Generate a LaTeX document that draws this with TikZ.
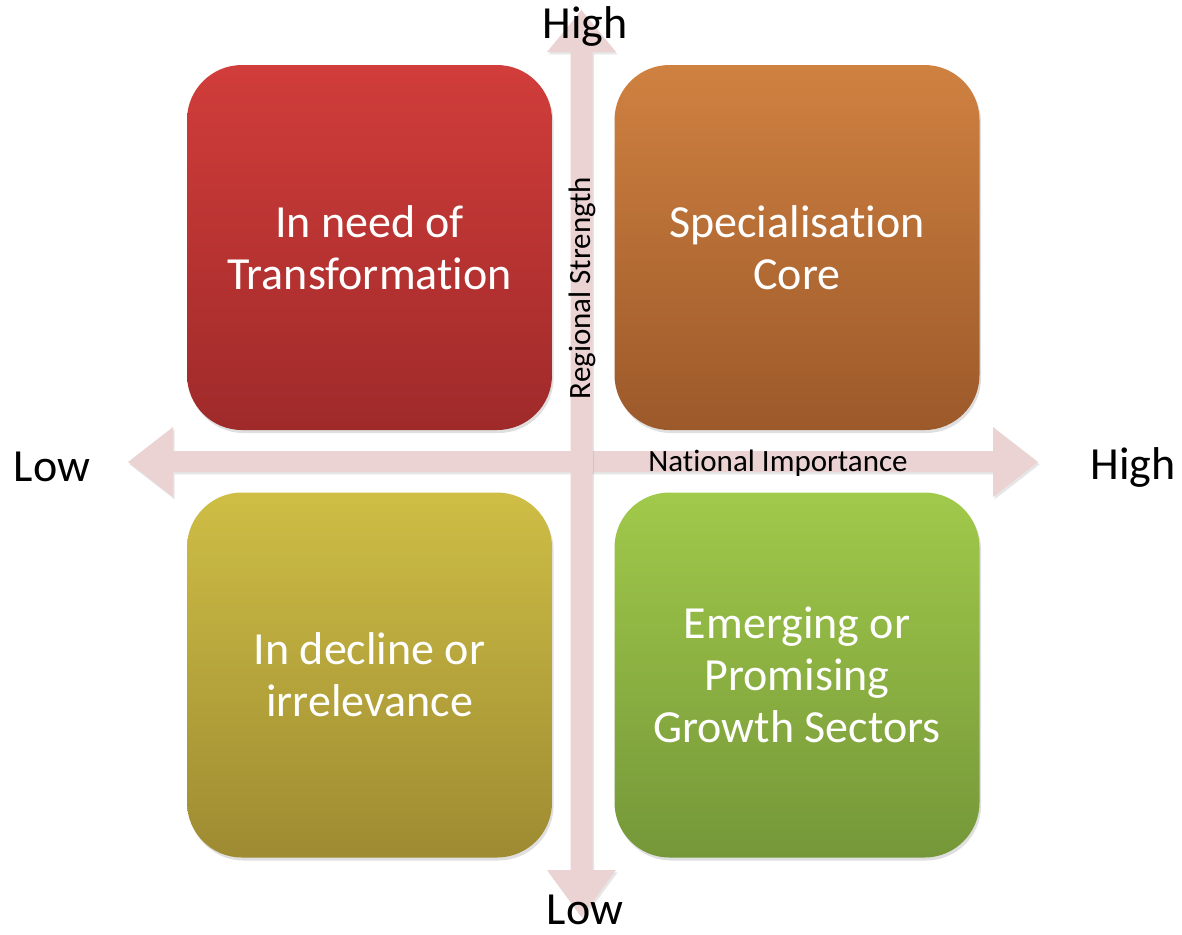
\documentclass[tikz,border=0pt]{standalone}
\usepackage{fontspec}
\setmainfont{Carlito}[Ligatures=NoCommon]
\usetikzlibrary{shadows}
\definecolor{axisfill}{HTML}{EBD3D4}
\begin{document}
\begin{tikzpicture}[x=0.5pt,y=-0.5pt,
  quad/.style={rounded corners=27.5pt, minimum width=182.5pt, minimum height=182.5pt,
    inner sep=0pt, text=white, align=center, font=\fontsize{23}{26}\selectfont,
    drop shadow={opacity=0.25, shadow xshift=0.8pt, shadow yshift=-1.5pt}},
  axisshape/.style={fill=axisfill, drop shadow={opacity=0.2, shadow xshift=0.8pt, shadow yshift=-1.2pt}},
  biglabel/.style={font=\fontsize{23}{26}\selectfont, text=black, inner sep=0pt},
  smalllabel/.style={font=\fontsize{15.5}{18}\selectfont, text=black, inner sep=0pt}]
\useasboundingbox (0,0) rectangle (1182,934);
% quadrant boxes
\node[quad, top color={rgb,255:red,209;green,61;blue,58}, bottom color={rgb,255:red,159;green,42;blue,42}] (tl) at (369.5,247.5) {In need of\\Transformation};
\node[quad, top color={rgb,255:red,207;green,129;blue,64}, bottom color={rgb,255:red,156;green,89;blue,42}] (tr) at (797,247.5) {Specialisation\\Core};
\node[quad, top color={rgb,255:red,206;green,190;blue,69}, bottom color={rgb,255:red,158;green,139;blue,50}] (bl) at (369.5,675) {In decline or\\irrelevance};
\node[quad, top color={rgb,255:red,161;green,201;blue,74}, bottom color={rgb,255:red,117;green,151;blue,57}] (br) at (797,675) {Emerging or\\Promising\\Growth Sectors};
% axes
\coordinate (ltip) at (128,462);
\coordinate (rtip) at (1038,462);
\coordinate (ttip) at (581.5,10);
\coordinate (btip) at (581.5,917);
\path[axisshape] (ltip) -- (173,427) -- (173,451) -- (993,451) -- (993,427) -- (rtip)
  -- (993,497) -- (993,472) -- (173,472) -- (173,497) -- cycle;
\path[axisshape] (ttip) -- (547,52) -- (570.5,52) -- (570.5,870) -- (547,870) -- (btip)
  -- (616,870) -- (592.5,870) -- (592.5,52) -- (616,52) -- cycle;
\fill[axisfill] (570.5,451) rectangle (592.5,472);
% labels
\node[biglabel] (hightop) at (585,26) {High};
\node[biglabel] (lowbot) at (585,910) {Low};
\node[biglabel] (lowleft) at (52,467) {Low};
\node[biglabel] (highright) at (1133,467) {High};
\node[smalllabel, rotate=90] (regional) at (582,288) {Regional Strength};
\node[smalllabel] (national) at (778,463) {National Importance};
\end{tikzpicture}
\end{document}
